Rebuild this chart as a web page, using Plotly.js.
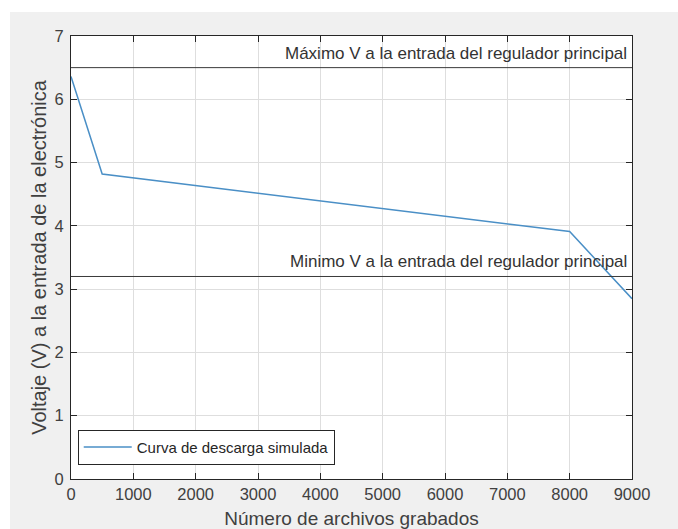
<!DOCTYPE html>
<html>
<head>
<meta charset="utf-8">
<script src="https://cdn.plot.ly/plotly-3.0.1.min.js"></script>
<style>
html,body{margin:0;padding:0;background:#ffffff;overflow:hidden;}
#chart{position:absolute;left:10px;top:12px;width:668px;height:517px;}
</style>
</head>
<body>
<div id="chart"></div>
<script>
// Data
const archivos = [0, 500, 8000, 9000];
const voltaje = [6.36, 4.82, 3.91, 2.85];
const maxV = 6.5;
const minV = 3.2;
const xRange = [0, 9000];
const xTicks = [0,1000,2000,3000,4000,5000,6000,7000,8000,9000];
const yTicks = [0,1,2,3,4,5,6,7];
const serieNombre = "Curva de descarga simulada";
const maxLabel = "Máximo V a la entrada del regulador principal";
const minLabel = "Minimo V a la entrada del regulador principal";

const fontFam = "Liberation Sans, Arial, sans-serif";
const axisCol = "#262626";

const traces = [
  {x: archivos, y: voltaje, type: "scatter", mode: "lines", name: serieNombre,
   line: {color: "#4a8fc6", width: 1.5}},
  {x: xRange, y: [maxV, maxV], type: "scatter", mode: "lines", showlegend: false,
   line: {color: "#3a3a3a", width: 1}, hoverinfo: "skip"},
  {x: xRange, y: [minV, minV], type: "scatter", mode: "lines", showlegend: false,
   line: {color: "#3a3a3a", width: 1}, hoverinfo: "skip"}
];

const axisCommon = {
  showline: true, linecolor: axisCol, linewidth: 1, mirror: "allticks",
  ticks: "inside", ticklen: 6, tickcolor: axisCol,
  showgrid: true, gridcolor: "#dedede", gridwidth: 1, zeroline: false,
  tickfont: {family: fontFam, size: 16.5, color: "#404040"}
};

const layout = {
  width: 668, height: 517,
  paper_bgcolor: "#f0f0f0", plot_bgcolor: "#ffffff",
  margin: {l: 61, r: 46, t: 24, b: 50},
  showlegend: true,
  legend: {x: 0.012, y: 0.032, xanchor: "left", yanchor: "bottom",
    bgcolor: "#ffffff", bordercolor: "#262626", borderwidth: 1,
    font: {family: fontFam, size: 15, color: "#262626"}, itemwidth: 48,
    tracegroupgap: 0},
  xaxis: Object.assign({}, axisCommon, {
    range: xRange, tickvals: xTicks, ticktext: xTicks.map(String),
    title: {text: "Número de archivos grabados", font: {family: fontFam, size: 19, color: "#404040"}, standoff: 10}
  }),
  yaxis: Object.assign({}, axisCommon, {
    range: [0, 7], tickvals: yTicks, ticktext: yTicks.map(String),
    ticklabelstandoff: 3,
    title: {text: "Voltaje (V) a la entrada de la electrónica", font: {family: fontFam, size: 20, color: "#404040"}, standoff: 2}
  }),
  annotations: [
    {x: 9000, y: maxV, xref: "x", yref: "y", text: maxLabel, showarrow: false,
     xanchor: "right", yanchor: "bottom", xshift: -3, yshift: 3,
     font: {family: fontFam, size: 17, color: "#333333"}},
    {x: 9000, y: minV, xref: "x", yref: "y", text: minLabel, showarrow: false,
     xanchor: "right", yanchor: "bottom", xshift: -3, yshift: 3,
     font: {family: fontFam, size: 17, color: "#333333"}}
  ]
};

Plotly.newPlot("chart", traces, layout, {displayModeBar: false, staticPlot: true});
</script>
</body>
</html>
